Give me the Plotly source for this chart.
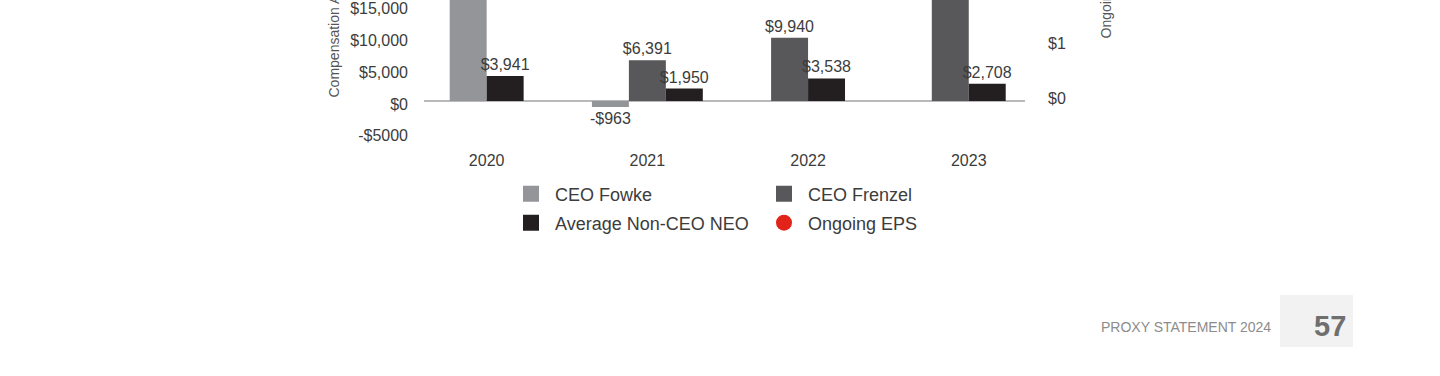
import plotly.graph_objects as go

# ---------------- data ----------------
years = ["2020", "2021", "2022", "2023"]
ceo_fowke = [18200, -963, None, None]
ceo_frenzel = [None, 6391, 9940, 17400]
avg_non_ceo_neo = [3941, 1950, 3538, 2708]
ongoing_eps = [2.79, 2.96, 3.17, 3.35]

comp_ticks = [-5000, 0, 5000, 10000, 15000]
comp_tick_labels = ["-$5000", "$0", "$5,000", "$10,000", "$15,000"]
eps_ticks = [0, 1]
eps_tick_labels = ["$0", "$1"]

series_names = ["CEO Fowke", "CEO Frenzel", "Average Non-CEO NEO"]
series_values = [ceo_fowke, ceo_frenzel, avg_non_ceo_neo]
series_colors = ["#939598", "#58585a", "#231f20"]
eps_color = "#e2231a"

# ---------------- geometry (pixels) ----------------
W, H = 1440, 376
PL, PR, PT, PB = 424, 1025, 0, 139   # plot area in px
BAR_W = 0.23                          # bar width in category units
FONT = "Liberation Sans"
TXT = "#3c3c3c"


def px_x(px):
    return (px - PL) / (PR - PL)


def px_y(py):
    return (PB - py) / (PB - PT)


def money(v):
    return f"-${abs(v):,}" if v < 0 else f"${v:,}"


# offsets so that the bars present in each year sit together, centred on the year
offsets = [[0.0] * len(years) for _ in series_values]
for j in range(len(years)):
    present = [i for i, vals in enumerate(series_values) if vals[j] is not None]
    n = len(present)
    for k, i in enumerate(present):
        offsets[i][j] = (k - n / 2) * BAR_W

fig = go.Figure()

for i, (name, vals, col) in enumerate(zip(series_names, series_values, series_colors)):
    fig.add_trace(go.Bar(
        x=years, y=vals, name=name, marker=dict(color=col, line=dict(width=0)),
        width=BAR_W, offset=offsets[i],
        text=[money(v) if v is not None else "" for v in vals],
        textposition="outside", constraintext="none", cliponaxis=True,
        textfont=dict(family=FONT, size=16, color=TXT),
        showlegend=False, legendgroup=name, hoverinfo="x+y",
    ))

# legend entries (square swatches like the original)
legend_of = {"CEO Fowke": "legend", "CEO Frenzel": "legend", "Average Non-CEO NEO": "legend2"}
for name, col in zip(series_names, series_colors):
    fig.add_trace(go.Scatter(
        x=[None], y=[None], mode="markers", name=name, legendgroup=name,
        marker=dict(symbol="square", size=16, color=col),
        legend=legend_of[name], hoverinfo="skip",
    ))

fig.add_trace(go.Scatter(
    x=years, y=ongoing_eps, name="Ongoing EPS", mode="markers", yaxis="y2",
    marker=dict(color=eps_color, size=16), cliponaxis=True, legend="legend2",
))

legend_common = dict(
    orientation="h", xref="container", yref="container", xanchor="left", yanchor="middle",
    font=dict(family=FONT, size=18, color=TXT), bgcolor="rgba(0,0,0,0)",
    entrywidth=200, entrywidthmode="pixels", itemsizing="trace", itemwidth=38,
)

fig.update_layout(
    width=W, height=H,
    margin=dict(l=PL, r=W - PR, t=PT, b=H - PB, pad=0, autoexpand=False),
    paper_bgcolor="white", plot_bgcolor="white",
    barmode="overlay",
    font=dict(family=FONT, size=16, color=TXT),
    xaxis=dict(
        type="category", categoryorder="array", categoryarray=years,
        range=[-0.39, 3.35], showgrid=False, zeroline=False, showline=False,
        ticks="", ticklabelstandoff=10, tickfont=dict(size=16, color=TXT),
        automargin=False,
    ),
    yaxis=dict(
        range=[-6000, 15890], tickvals=comp_ticks, ticktext=comp_tick_labels,
        showgrid=False, showline=False, ticks="",
        zeroline=True, zerolinecolor="#b9b9bb", zerolinewidth=2,
        ticklabelstandoff=15, ticklabelshift=3, ticklabeloverflow="allow",
        tickfont=dict(size=16, color=TXT), automargin=False,
    ),
    yaxis2=dict(
        overlaying="y", side="right", range=[-0.74, 1.787],
        tickvals=eps_ticks, ticktext=eps_tick_labels,
        showgrid=False, zeroline=False, showline=False, ticks="",
        ticklabelstandoff=22, ticklabeloverflow="allow",
        tickfont=dict(size=16, color=TXT), automargin=False,
    ),
    legend=dict(x=507 / W, y=1 - 194 / H, **legend_common),
    legend2=dict(x=507 / W, y=1 - 223 / H, **legend_common),
    showlegend=True,
)

# axis titles (cut off at the top, like the original page crop)
fig.add_annotation(
    text="Compensation Actually Paid ($ in thousands)", textangle=-90,
    xref="paper", yref="paper", x=px_x(333), y=px_y(100),
    xanchor="center", yanchor="bottom", showarrow=False,
    font=dict(family=FONT, size=14, color="#555555"),
)
fig.add_annotation(
    text="Ongoing EPS", textangle=-90,
    xref="paper", yref="paper", x=px_x(1105), y=px_y(41),
    xanchor="center", yanchor="bottom", showarrow=False,
    font=dict(family=FONT, size=14, color="#555555"),
)

# page footer
fig.add_shape(
    type="rect", xref="paper", yref="paper",
    x0=px_x(1280), x1=px_x(1353), y0=px_y(347), y1=px_y(295),
    fillcolor="#f2f2f2", line=dict(width=0), layer="below",
)
fig.add_annotation(
    text="PROXY STATEMENT 2024", xref="paper", yref="paper",
    x=px_x(1273), y=px_y(327), xanchor="right", yanchor="middle", showarrow=False,
    font=dict(family=FONT, size=14, color="#8c8c8c"),
)
fig.add_annotation(
    text="<b>57</b>", xref="paper", yref="paper",
    x=px_x(1330), y=px_y(326), xanchor="center", yanchor="middle", showarrow=False,
    font=dict(family=FONT, size=29, color="#6f6f6f"),
)

fig.write_html(
    "out.html",
    config={"displayModeBar": False},
    post_script="document.body.style.margin='0';",
)
